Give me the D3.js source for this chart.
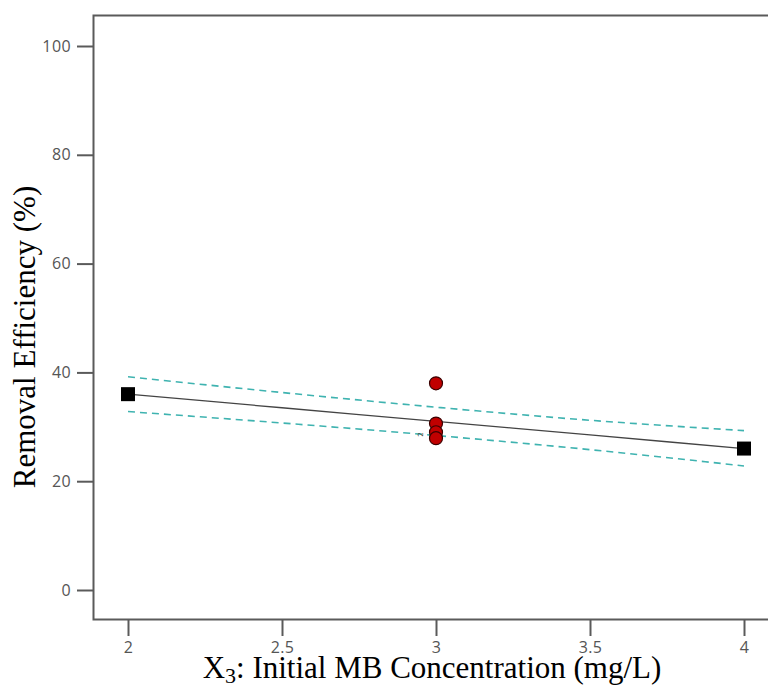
<!DOCTYPE html>
<html>
<head>
<meta charset="utf-8">
<script src="https://cdn.jsdelivr.net/npm/d3@7"></script>
<style>
  body { margin: 0; background: #fff; }
  svg { display: block; }
</style>
</head>
<body>
<script>
// data
var xTicks = [2, 2.5, 3, 3.5, 4];
var yTicks = [0, 20, 40, 60, 80, 100];

// fitted line and its 95% band
var fitX = [2, 2.5, 3, 3.5, 4];
var fitY = [36, 33.5, 31, 28.5, 26];
var bandUpper = [39.2, 36.3, 33.6, 31.2, 29.3];
var bandLower = [32.8, 30.7, 28.4, 25.8, 22.8];

// design points (squares) and actual runs (circles)
var squareX = [2, 4];
var squareY = [36, 26];
var runX = [3, 3, 3, 3];
var runY = [38, 30.6, 29, 27.9];

var width = 768, height = 686;

var svg = d3.select("body").append("svg")
            .attr("width", width)
            .attr("height", height);

var x = d3.scaleLinear().domain([2, 4]).range([128, 744]);
var y = d3.scaleLinear().domain([0, 100]).range([590, 46]);

// frame (right edge runs off the page like the original)
svg.append("rect")
   .attr("x", 93.5).attr("y", 15.5)
   .attr("width", 720).attr("height", 604)
   .attr("fill", "none")
   .attr("stroke", "#5a5a5a")
   .attr("stroke-width", 2);

var yAxis = svg.append("g")
               .attr("transform", "translate(93,0)")
               .call(d3.axisLeft(y).tickValues(yTicks).tickSize(16).tickPadding(6));
var xAxis = svg.append("g")
               .attr("transform", "translate(0,620)")
               .call(d3.axisBottom(x).tickValues(xTicks).tickSize(16).tickPadding(6)
                       .tickFormat(function(d) { return d; }));

[yAxis, xAxis].forEach(function(g) {
  g.select(".domain").remove();
  g.selectAll(".tick line").attr("stroke", "#5a5a5a").attr("stroke-width", 2);
  g.selectAll(".tick text")
   .attr("fill", "#555")
   .attr("font-family", "'Open Sans', sans-serif")
   .attr("font-size", 16)
   .style("letter-spacing", "0.4px");
});

var line = d3.line()
             .x(function(d) { return x(d[0]); })
             .y(function(d) { return y(d[1]); })
             .curve(d3.curveMonotoneX);

var zip = function(a, b) { return a.map(function(v, i) { return [v, b[i]]; }); };

svg.append("path")
   .datum(zip(fitX, fitY))
   .attr("d", line)
   .attr("fill", "none")
   .attr("stroke", "#444")
   .attr("stroke-width", 1.3);

[bandUpper, bandLower].forEach(function(b) {
  svg.append("path")
     .datum(zip(fitX, b))
     .attr("d", line)
     .attr("fill", "none")
     .attr("stroke", "#3fb3b0")
     .attr("stroke-width", 1.6)
     .attr("stroke-dasharray", "7,5");
});

// runs
svg.selectAll(".run")
   .data(zip(runX, runY))
   .enter().append("circle")
   .attr("class", "run")
   .attr("cx", function(d) { return x(d[0]); })
   .attr("cy", function(d) { return y(d[1]); })
   .attr("r", 6.5)
   .attr("fill", "#c00000")
   .attr("stroke", "#3a0000")
   .attr("stroke-width", 1.2);

// count label for overlapping runs
svg.append("text")
   .attr("transform", "translate(" + (x(3) - 15) + "," + y(28.6) + ") rotate(-90)")
   .attr("text-anchor", "middle")
   .attr("dy", "0.35em")
   .style("font-family", "'DejaVu Sans', sans-serif")
   .style("font-size", "7px")
   .attr("fill", "#333")
   .text("2");

// squares
svg.selectAll(".sq")
   .data(zip(squareX, squareY))
   .enter().append("rect")
   .attr("class", "sq")
   .attr("x", function(d) { return x(d[0]) - 7; })
   .attr("y", function(d) { return y(d[1]) - 7; })
   .attr("width", 14).attr("height", 14)
   .attr("fill", "#000");

// axis titles
var xt = svg.append("text")
            .attr("x", 432).attr("y", 678)
            .attr("text-anchor", "middle")
            .style("font-family", "'Liberation Serif', 'Times New Roman', serif")
            .style("font-size", "31px")
            .attr("fill", "#000");
xt.append("tspan").text("X");
xt.append("tspan").attr("dy", 5).style("font-size", "22px").text("3");
xt.append("tspan").attr("dy", -5).text(": Initial MB Concentration (mg/L)");

svg.append("text")
   .attr("transform", "translate(35,337) rotate(-90)")
   .attr("text-anchor", "middle")
   .style("font-family", "'Liberation Serif', 'Times New Roman', serif")
   .style("font-size", "31px")
   .attr("fill", "#000")
   .text("Removal Efficiency (%)");
</script>
</body>
</html>
